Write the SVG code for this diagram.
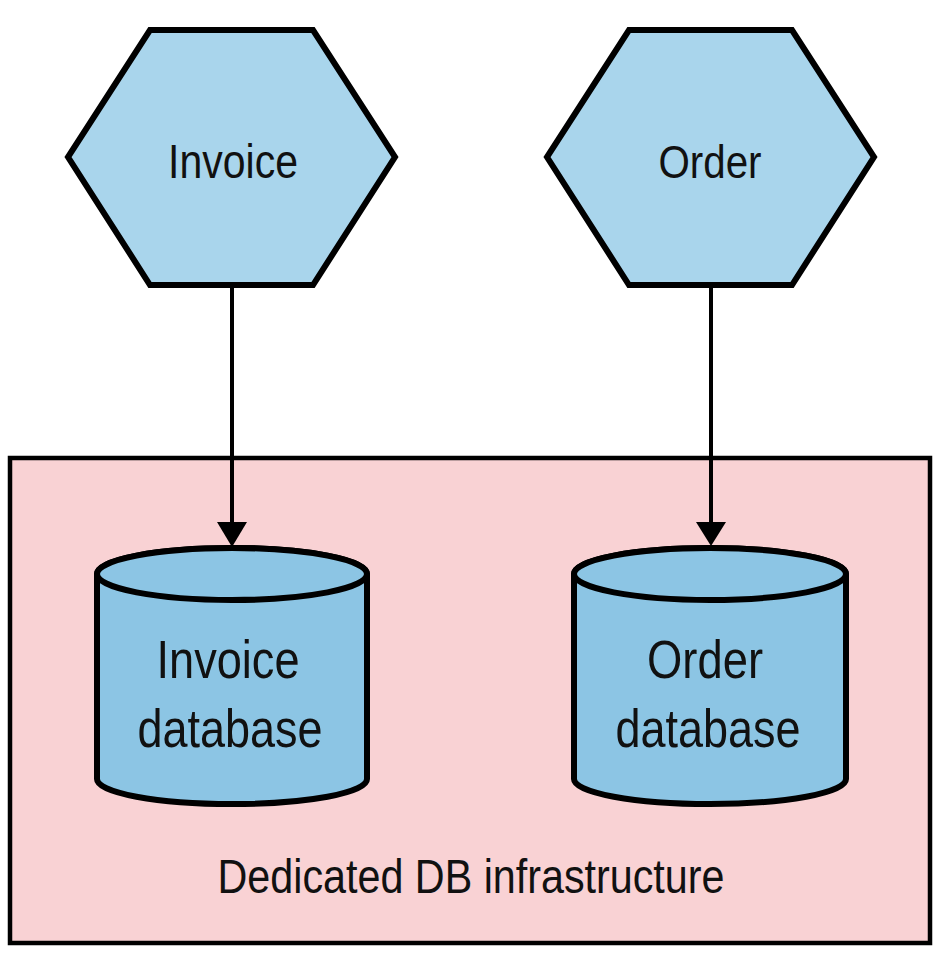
<svg xmlns="http://www.w3.org/2000/svg" width="950" height="962" viewBox="0 0 950 962">
<defs>
<style>
.hex{fill:#a9d5ec;stroke:#000;stroke-width:6;stroke-linejoin:miter}
.cyl{fill:#8cc5e4;stroke:#000;stroke-width:6}
.t{font-family:"Liberation Sans",Arial,sans-serif;fill:#111;text-anchor:middle}
.conn{stroke:#000;stroke-width:4;fill:none}
</style>
</defs>
<rect width="950" height="962" fill="#fff"/>
<g id="infra">
<rect x="10" y="458" width="920" height="485" fill="#f9d2d4" stroke="#000" stroke-width="4.5"/>
<text class="t" x="471" y="893" font-size="49" textLength="507" lengthAdjust="spacingAndGlyphs">Dedicated DB infrastructure</text>
</g>
<g id="invoice">
<polygon class="hex" points="150,30 313,30 395,157 313,285 150,285 68,157"/>
<text class="t" x="233" y="178" font-size="49" textLength="130" lengthAdjust="spacingAndGlyphs">Invoice</text>
</g>
<g id="order">
<polygon class="hex" points="629,30 792,30 874,157 792,285 629,285 547,157"/>
<text class="t" x="710" y="178" font-size="47" textLength="103" lengthAdjust="spacingAndGlyphs">Order</text>
</g>
<g id="invoice-db">
<path class="cyl" d="M97,574 L97,779 A135,25 0 0 0 367,779 L367,574 A135,26 0 0 0 97,574 Z"/>
<ellipse class="cyl" cx="232" cy="574" rx="135" ry="26"/>
<text class="t" x="228" y="678" font-size="54" textLength="143" lengthAdjust="spacingAndGlyphs">Invoice</text>
<text class="t" x="230" y="747" font-size="54" textLength="185" lengthAdjust="spacingAndGlyphs">database</text>
</g>
<g id="order-db">
<path class="cyl" d="M574,574 L574,779 A136,25 0 0 0 846,779 L846,574 A136,26 0 0 0 574,574 Z"/>
<ellipse class="cyl" cx="710" cy="574" rx="136" ry="26"/>
<text class="t" x="705" y="678" font-size="54" textLength="116" lengthAdjust="spacingAndGlyphs">Order</text>
<text class="t" x="708" y="747" font-size="54" textLength="185" lengthAdjust="spacingAndGlyphs">database</text>
</g>
<g id="connectors">
<line class="conn" x1="232" y1="287" x2="232" y2="524"/>
<polygon points="217,522 247,522 232,547" fill="#000"/>
<line class="conn" x1="711" y1="287" x2="711" y2="524"/>
<polygon points="696,522 726,522 711,546" fill="#000"/>
</g>
</svg>
